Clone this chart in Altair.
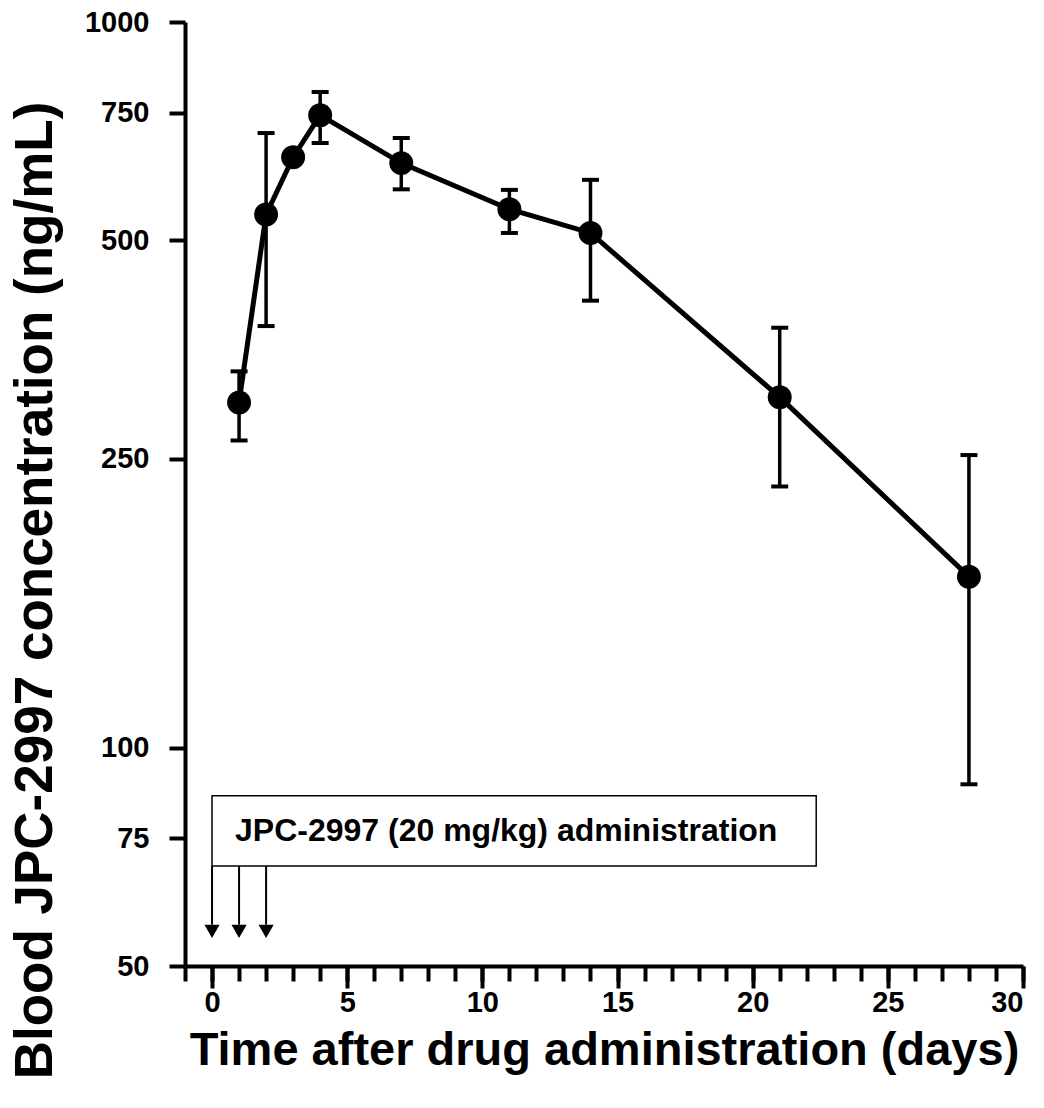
import altair as alt
import pandas as pd

# ---- data ----
days = [1, 2, 3, 4, 7, 11, 14, 21, 28]
mean_conc = [299, 543, 651, 744, 639, 552, 512, 304, 172]
upper_conc = [330, 703, 651, 801, 692, 587, 606, 379, 253]
lower_conc = [265, 381, 651, 681, 588, 512, 413, 229, 89]

dose_days = [0, 1, 2]
arrow_top = [68.7, 68.7, 68.7]
arrow_end = [57.0, 57.0, 57.0]
arrow_tip = [55.8, 55.8, 55.8]

box_x0 = [0.0]
box_x1 = [22.35]
box_y0 = [68.7]
box_y1 = [85.8]
label_x = [0.85]
label_y = [76.8]
label_text = ["JPC-2997 (20 mg/kg) administration"]

x_major_ticks = [0, 5, 10, 15, 20, 25, 30]
x_minor_ticks = list(range(-1, 31))
y_ticks = [50, 75, 100, 250, 500, 750, 1000]

x_title = "Time after drug administration (days)"
y_title = "Blood JPC-2997 concentration (ng/mL)"

FONT = "Liberation Sans"

df = pd.DataFrame({"day": days, "mean": mean_conc, "hi": upper_conc, "lo": lower_conc})
arrows = pd.DataFrame({"day": dose_days, "top": arrow_top, "end": arrow_end, "tip": arrow_tip})
box = pd.DataFrame({"x0": box_x0, "x1": box_x1, "y0": box_y0, "y1": box_y1})
lab = pd.DataFrame({"x": label_x, "y": label_y, "t": label_text})

xs = alt.Scale(domain=[-1, 30], nice=False, zero=False)
ys = alt.Scale(type="log", domain=[50, 1000], nice=False)

base = alt.Chart(df)

minor_axis = alt.Axis(values=x_minor_ticks, labels=False, domain=False, tickSize=15,
                      tickWidth=4, grid=False, orient="bottom", title=None)
major_axis = alt.Axis(values=x_major_ticks, tickSize=22, tickWidth=4, grid=False,
                      orient="bottom", title=x_title, labelPadding=0, labelFontSize=29,
                      titleFontSize=47, titleY=98, titleBaseline="alphabetic",
                      labelFlush=True)
y_axis = alt.Axis(values=y_ticks, tickSize=16, tickWidth=4, grid=False, title=y_title,
                  labelPadding=20, labelFontSize=29, titleFontSize=53,
                  titleX=-134, titleY=568, titleAlign="center", titleBaseline="alphabetic",
                  labelFlush=False, format="d")

Y = lambda f: alt.Y(f, scale=ys, axis=y_axis)

err = base.mark_rule(color="black", strokeWidth=3.5).encode(
    x=alt.X("day:Q", scale=xs, axis=minor_axis),
    y=Y("lo:Q"),
    y2="hi:Q",
)
cap_hi = base.mark_tick(color="black", orient="horizontal", size=17, thickness=4, opacity=1).encode(
    x=alt.X("day:Q", scale=xs, axis=None),
    y=Y("hi:Q"),
)
cap_lo = base.mark_tick(color="black", orient="horizontal", size=17, thickness=4, opacity=1).encode(
    x=alt.X("day:Q", scale=xs, axis=None),
    y=Y("lo:Q"),
)
line = base.mark_line(color="black", strokeWidth=5).encode(
    x=alt.X("day:Q", scale=xs, axis=major_axis),
    y=Y("mean:Q"),
)
pts = base.mark_circle(color="black", size=572, opacity=1).encode(
    x=alt.X("day:Q", scale=xs, axis=None),
    y=Y("mean:Q"),
)
rect = alt.Chart(box).mark_rect(fill="white", stroke="black", strokeWidth=1.5).encode(
    x=alt.X("x0:Q", scale=xs, axis=None),
    x2="x1:Q",
    y=Y("y0:Q"),
    y2="y1:Q",
)
txt = alt.Chart(lab).mark_text(align="left", baseline="middle", font=FONT, fontWeight="bold",
                               fontSize=32, color="black").encode(
    x=alt.X("x:Q", scale=xs, axis=None),
    y=Y("y:Q"),
    text="t:N",
)
arr = alt.Chart(arrows).mark_rule(color="black", strokeWidth=2).encode(
    x=alt.X("day:Q", scale=xs, axis=None),
    y=Y("top:Q"),
    y2="end:Q",
)
heads = alt.Chart(arrows).mark_point(shape="triangle-down", filled=True, color="black",
                                     size=230, opacity=1).encode(
    x=alt.X("day:Q", scale=xs, axis=None),
    y=Y("tip:Q"),
)

chart = alt.layer(err, cap_hi, cap_lo, line, pts, rect, txt, arr, heads).resolve_axis(
    x="independent"
).properties(
    width=838, height=944, autosize="none",
    padding={"left": 177, "top": 14, "right": 12, "bottom": 128},
).configure_view(stroke=None).configure_axis(
    labelFont=FONT, titleFont=FONT, labelFontWeight="bold", titleFontWeight="bold",
    labelColor="black", titleColor="black", domainColor="black", tickColor="black",
    domainWidth=4,
)

chart.save("out.html", embed_options={"renderer": "svg", "actions": False})
